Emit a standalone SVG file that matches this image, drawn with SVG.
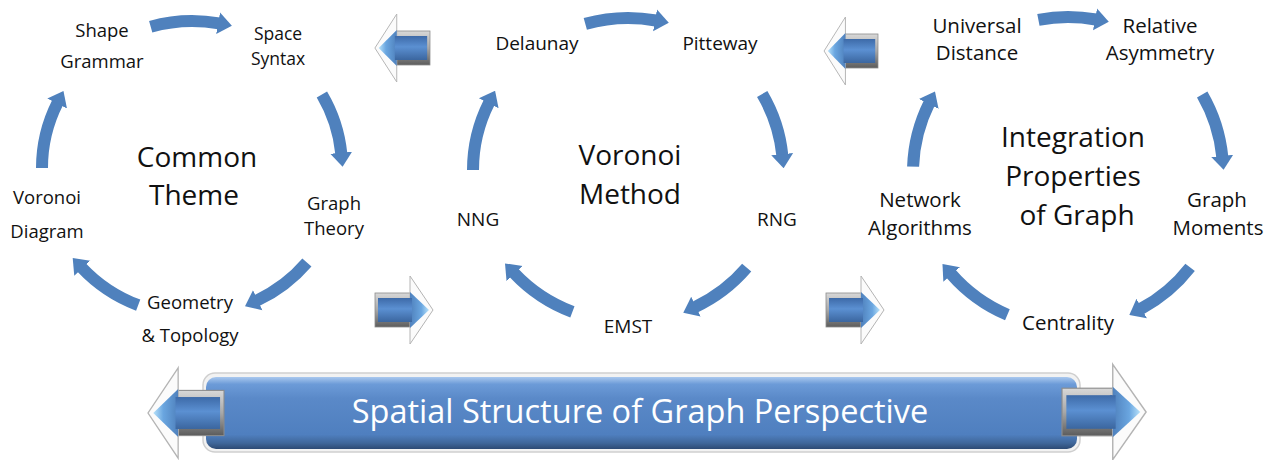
<svg xmlns="http://www.w3.org/2000/svg" xmlns:xlink="http://www.w3.org/1999/xlink" width="1279" height="460" viewBox="0 0 1279 460">
  <style>
    .lbl { font-family: "Open Sans", "Liberation Sans", sans-serif; fill: #111; text-anchor: middle; }
    .s1 { font-size: 18.5px; }
    .s2 { font-size: 19px; }
    .s3 { font-size: 20.5px; }
    .tight { font-size: 17.5px; }
    .ttl { font-family: "Open Sans", "Liberation Sans", sans-serif; font-size: 28px; fill: #111; text-anchor: middle; }
    .arc { fill: none; stroke: #4F81BD; stroke-width: 12; stroke-linecap: butt; marker-end: url(#head); }
    .banner-text { font-family: "Open Sans", "Liberation Sans", sans-serif; font-size: 32.5px; fill: #ffffff; text-anchor: middle; }
  </style>
  <defs>
    <marker id="head" markerUnits="userSpaceOnUse" viewBox="0 0 14 24" markerWidth="14" markerHeight="24" refX="1" refY="12" orient="auto">
      <path d="M0,1 L14,12 L0,23 z" fill="#4F81BD"/>
    </marker>
    <linearGradient id="frameGrad" x1="0" y1="0" x2="0" y2="1">
      <stop offset="0" stop-color="#d8d8d8"/>
      <stop offset="0.5" stop-color="#a8a8a8"/>
      <stop offset="1" stop-color="#5c5c5c"/>
    </linearGradient>
    <linearGradient id="blueGrad" x1="0" y1="0" x2="0" y2="1">
      <stop offset="0" stop-color="#3d6aa8"/>
      <stop offset="0.45" stop-color="#5b90d2"/>
      <stop offset="1" stop-color="#3b669f"/>
    </linearGradient>
    <linearGradient id="tipGrad" x1="0" y1="0" x2="1" y2="0">
      <stop offset="0" stop-color="#4f81bd"/>
      <stop offset="0.6" stop-color="#6aa6e0"/>
      <stop offset="1" stop-color="#b8e2fa"/>
    </linearGradient>
    <linearGradient id="barGrad" x1="0" y1="0" x2="0" y2="1">
      <stop offset="0" stop-color="#a9c8ee"/>
      <stop offset="0.1" stop-color="#6c9bd8"/>
      <stop offset="0.3" stop-color="#5a89c8"/>
      <stop offset="0.8" stop-color="#4f7fbf"/>
      <stop offset="0.92" stop-color="#3f6699"/>
      <stop offset="1" stop-color="#2d4a73"/>
    </linearGradient>
    <!-- bevelled block arrow pointing right, tip at (58,0) -->
    <g id="blockArrow">
      <rect x="0" y="-17" width="37" height="34" fill="url(#frameGrad)" stroke="#8c8c8c" stroke-width="0.8"/>
      <rect x="3" y="-12" width="34" height="24" fill="url(#blueGrad)"/>
      <polygon points="35,-34 58,0 35,34" fill="#fbfbfb" stroke="#b4b4b4" stroke-width="1"/>
      <polygon points="35,-18 54,0 35,18" fill="url(#tipGrad)"/>
      <rect x="33" y="-12" width="4" height="24" fill="url(#blueGrad)"/>
    </g>
  </defs>

  <rect x="0" y="0" width="1279" height="460" fill="#ffffff"/>

  <!-- cycle connectors -->
  <g id="connectors">
    <!-- common theme ring -->
    <path class="arc" d="M150.7,26.7 A150,147 0 0 1 219.1,23.4"/>
    <path class="arc" d="M321.9,94.5 A150,147 0 0 1 341.3,153.7"/>
    <path class="arc" d="M306.9,262.5 A150,147 0 0 1 256.8,300.6"/>
    <path class="arc" d="M138.2,305.2 A150,147 0 0 1 81.6,267.5"/>
    <path class="arc" d="M42,168 A150,147 0 0 1 57.6,102.6"/>
    <!-- voronoi method ring -->
    <path class="arc" d="M585.3,23.9 A155,152 0 0 1 656,20.5"/>
    <path class="arc" d="M762.2,94 A155,152 0 0 1 782.3,155.2"/>
    <path class="arc" d="M746.7,267.7 A155,152 0 0 1 695,307.1"/>
    <path class="arc" d="M572.4,311.9 A155,152 0 0 1 513.9,272.9"/>
    <path class="arc" d="M473,170 A155,152 0 0 1 489.2,102.4"/>
    <!-- integration properties ring -->
    <path class="arc" d="M1038.4,19.8 A155,155 0 0 1 1096,19.5"/>
    <path class="arc" d="M1202.2,94.5 A155,155 0 0 1 1222.3,156.9"/>
    <path class="arc" d="M1190.1,267.4 A155,155 0 0 1 1140.8,308.9"/>
    <path class="arc" d="M1007.4,314.7 A155,155 0 0 1 951,273.7"/>
    <path class="arc" d="M913.1,166.6 A155,155 0 0 1 929.2,103.1"/>
    <!-- links between rings -->
    <use xlink:href="#blockArrow" transform="translate(430,48) scale(-0.95,1)"/>
    <use xlink:href="#blockArrow" transform="translate(375,310)"/>
    <use xlink:href="#blockArrow" transform="translate(878,51) scale(-0.93,1)"/>
    <use xlink:href="#blockArrow" transform="translate(826,310)"/>
  </g>

  <!-- ring 1 -->
  <g id="common-theme"><text class="ttl" x="197" y="167">Common</text><text class="ttl" x="194" y="205">Theme</text></g>
  <g id="shape-grammar"><text class="lbl s1" x="102" y="37">Shape</text><text class="lbl s1" x="102" y="68">Grammar</text></g>
  <g id="space-syntax"><text class="lbl tight" x="278" y="40">Space</text><text class="lbl tight" x="278" y="65">Syntax</text></g>
  <g id="graph-theory"><text class="lbl s1" x="334" y="210">Graph</text><text class="lbl s1" x="334" y="235">Theory</text></g>
  <g id="geometry-topology"><text class="lbl s1" x="190" y="309">Geometry</text><text class="lbl s1" x="190" y="342">&amp; Topology</text></g>
  <g id="voronoi-diagram"><text class="lbl s1" x="47" y="204">Voronoi</text><text class="lbl s1" x="47" y="238">Diagram</text></g>

  <!-- ring 2 -->
  <g id="voronoi-method"><text class="ttl" x="630" y="165">Voronoi</text><text class="ttl" x="630" y="204">Method</text></g>
  <g id="delaunay"><text class="lbl s2" x="537" y="50">Delaunay</text></g>
  <g id="pitteway"><text class="lbl s2" x="720" y="50">Pitteway</text></g>
  <g id="rng"><text class="lbl s2" x="777" y="226">RNG</text></g>
  <g id="emst"><text class="lbl s2" x="628" y="333">EMST</text></g>
  <g id="nng"><text class="lbl s2" x="478" y="226">NNG</text></g>

  <!-- ring 3 -->
  <g id="integration-properties"><text class="ttl" x="1073" y="147">Integration</text><text class="ttl" x="1073" y="186">Properties</text><text class="ttl" x="1077" y="225">of Graph</text></g>
  <g id="universal-distance"><text class="lbl s3" x="977" y="33">Universal</text><text class="lbl s3" x="977" y="60">Distance</text></g>
  <g id="relative-asymmetry"><text class="lbl s3" x="1160" y="33">Relative</text><text class="lbl s3" x="1160" y="60">Asymmetry</text></g>
  <g id="graph-moments"><text class="lbl s3" x="1217" y="207">Graph</text><text class="lbl s3" x="1218" y="235">Moments</text></g>
  <g id="centrality"><text class="lbl s3" x="1068" y="330">Centrality</text></g>
  <g id="network-algorithms"><text class="lbl s3" x="920" y="207">Network</text><text class="lbl s3" x="920" y="235">Algorithms</text></g>

  <!-- perspective banner -->
  <g id="banner">
    <rect x="203" y="373" width="877" height="79" rx="12" fill="#f2f2f2" stroke="#cfcfcf" stroke-width="1.5"/>
    <rect x="206" y="377" width="871" height="72" rx="10" fill="url(#barGrad)"/>
    <use xlink:href="#blockArrow" transform="translate(224,413) scale(-1.31,1.33)"/>
    <use xlink:href="#blockArrow" transform="translate(1062,412) scale(1.45,1.4)"/>
    <text class="banner-text" x="640" y="423">Spatial Structure of Graph Perspective</text>
  </g>
</svg>
